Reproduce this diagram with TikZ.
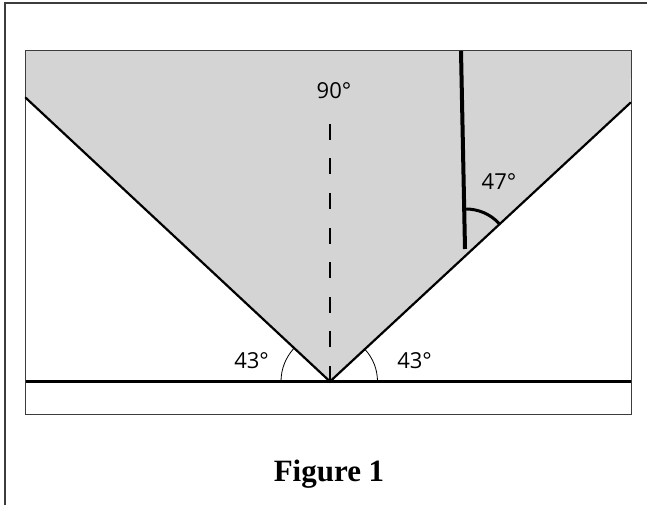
\documentclass[tikz,border=0pt]{standalone}
\usepackage{fontspec}
\setmainfont{Liberation Serif}
\newfontfamily\labelfont{Open Sans}
\usetikzlibrary{calc}
\definecolor{prismgray}{RGB}{212,212,212}
\definecolor{framegray}{RGB}{60,60,60}
\tikzset{
  frameline/.style = {draw=framegray, line width=1.5pt},
  boxline/.style   = {draw=framegray, line width=1pt},
  ray/.style       = {draw=black, line width=2.2pt},
  normal/.style    = {draw=black, line width=2pt, dash pattern=on 16pt off 18.5pt},
  thickray/.style  = {draw=black, line width=4pt},
  anglearc/.style  = {draw=black, line width=0.8pt},
  bigarc/.style    = {draw=black, line width=3pt},
  anglab/.style    = {font=\labelfont\fontsize{22}{24}\selectfont, inner sep=0pt},
}

\begin{document}
\begin{tikzpicture}[x=1pt, y=1pt]
  \useasboundingbox (0,0) rectangle (647,504);
  \clip (0,0) rectangle (647,504);
  % outer frame (runs off the page at right and bottom)
  \draw[frameline] (5,-20) rectangle (660,501);
  % key points
  \coordinate (tl) at (25.6,453);
  \coordinate (tr) at (631,453);
  \coordinate (bl) at (25.6,90);
  \coordinate (br) at (631,90);
  \coordinate (v)  at (330,122.5);
  \coordinate (lt) at (25.6,406.3);
  \coordinate (rt) at (630.5,401.3);
  \coordinate (gl) at (25.6,122.5);
  \coordinate (gr) at (631,122.5);
  % shaded wedge
  \fill[prismgray] (tl) -- (tr) -- (rt) -- (v) -- (lt) -- cycle;
  \draw[boxline] (tl) rectangle (br);
  % surface and rays
  \draw[ray] (gl) -- (gr);
  \draw[ray, line cap=round] (lt) -- (v) -- (rt);
  % normal
  \coordinate (ntop) at (330,383);
  \draw[normal] (v) -- (ntop);
  \node[anglab] (n90) at (334,413) {90°};
  % vertical rod and its angle
  \coordinate (rtop) at (461,453);
  \coordinate (rbot) at (465,255);
  \draw[thickray] (rtop) -- (rbot);
  \draw[bigarc] ($(466,250)+(91:45)$) arc[start angle=91, end angle=42.7, radius=45];
  \node[anglab] (a47) at (499,322) {47°};
  % angles at the surface
  \draw[anglearc] ($(v)+(180:49)$) arc[start angle=180, end angle=137.3, radius=49];
  \draw[anglearc] ($(v)+(0:47.5)$) arc[start angle=0, end angle=42.7, radius=47.5];
  \node[anglab] (a43l) at (251.6,143.3) {43°};
  \node[anglab] (a43r) at (414.6,143.3) {43°};
  % caption
  \node[font=\bfseries\fontsize{31}{34}\selectfont, anchor=base, inner sep=0pt] (cap) at (329,23) {Figure 1};
\end{tikzpicture}
\end{document}
